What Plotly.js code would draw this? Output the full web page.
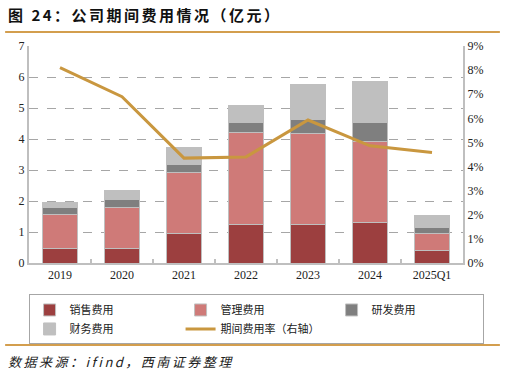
<!DOCTYPE html>
<html>
<head>
<meta charset="utf-8">
<script src="https://cdn.plot.ly/plotly-3.0.1.min.js"></script>
<style>html,body{margin:0;padding:0;background:#fff;}#chart{width:507px;height:378px;}</style>
</head>
<body>
<div id="chart"></div>
<script>
var categories = ['2019', '2020', '2021', '2022', '2023', '2024', '2025Q1'];
var salesExpense = [0.47, 0.47, 0.95, 1.25, 1.25, 1.32, 0.39];
var adminExpense = [1.09, 1.32, 1.96, 2.97, 2.92, 2.60, 0.57];
var rdExpense = [0.23, 0.26, 0.28, 0.31, 0.47, 0.60, 0.20];
var financeExpense = [0.16, 0.29, 0.54, 0.54, 1.12, 1.33, 0.37];
var expenseRatio = [8.10, 6.90, 4.35, 4.40, 5.93, 4.86, 4.58];
var seriesNames = ['销售费用', '管理费用', '研发费用', '财务费用', '期间费用率（右轴）'];

var outline = {color: '#BFBFBF', width: 1};
function barTrace(name, vals, color) {
  return {type: 'bar', name: name, x: categories, y: vals,
    marker: {color: color, line: outline}, hoverinfo: 'y'};
}
var data = [
  barTrace(seriesNames[0], salesExpense, '#9C3F3F'),
  barTrace(seriesNames[1], adminExpense, '#CF7A78'),
  barTrace(seriesNames[2], rdExpense, '#7F7F7F'),
  barTrace(seriesNames[3], financeExpense, '#BFBFBF'),
  {type: 'scatter', mode: 'lines', name: seriesNames[4], x: categories, y: expenseRatio,
    yaxis: 'y2', line: {color: '#C9973F', width: 3}}
];

var tickFont = {family: 'Liberation Serif, Times New Roman, serif', size: 12, color: '#222'};
var layout = {
  width: 507, height: 378,
  margin: {l: 29, r: 44, t: 46, b: 115},
  paper_bgcolor: '#fff', plot_bgcolor: '#fff',
  barmode: 'stack', bargap: 0.43,
  showlegend: true,
  font: {family: 'Noto Sans CJK SC, sans-serif', color: '#333'},
  xaxis: {
    type: 'category', tickfont: tickFont, showline: true, linecolor: '#BFBFBF', linewidth: 2,
    ticks: 'inside', tickson: 'boundaries', ticklen: 4, tickcolor: '#BFBFBF', tickwidth: 2,
    showgrid: false, zeroline: false
  },
  yaxis: {
    range: [0, 7], dtick: 1, tickfont: tickFont, showline: true, linecolor: '#BFBFBF', linewidth: 2,
    showgrid: true, gridcolor: '#A6A6A6', griddash: 'dash', gridwidth: 1, zeroline: false,
    ticks: '', fixedrange: true
  },
  yaxis2: {
    range: [0, 9], dtick: 1, ticksuffix: '%', overlaying: 'y', side: 'right', tickfont: tickFont,
    showline: true, linecolor: '#BFBFBF', linewidth: 2, showgrid: false, zeroline: false, ticks: ''
  },
  legend: {
    orientation: 'h', x: -0.001, xanchor: 'left', y: -0.145, yanchor: 'top',
    entrywidth: 106, bordercolor: '#A6A6A6', borderwidth: 1, bgcolor: '#fff',
    font: {family: 'Noto Sans CJK SC, sans-serif', size: 11, color: '#222'},
    traceorder: 'normal', itemclick: false
  },
  shapes: [
    {type: 'line', xref: 'paper', yref: 'paper', x0: -0.055, x1: 1.085, y0: 1.065, y1: 1.065,
      line: {color: '#D39E4E', width: 2}},
    {type: 'line', xref: 'paper', yref: 'paper', x0: -0.055, x1: 1.085, y0: -0.378, y1: -0.378,
      line: {color: '#D39E4E', width: 2}}
  ],
  annotations: [
    {text: '<b>图 24：公司期间费用情况（亿元）</b>', xref: 'paper', yref: 'paper',
      x: -0.052, y: 1.143, xanchor: 'left', yanchor: 'middle', align: 'left', showarrow: false,
      font: {family: 'Noto Sans CJK SC, sans-serif', size: 15, color: '#111'}},
    {text: '<i>数据来源：ifind，西南证券整理</i>', xref: 'paper', yref: 'paper',
      x: -0.052, y: -0.456, xanchor: 'left', yanchor: 'middle', align: 'left', showarrow: false,
      font: {family: 'Noto Sans CJK SC, sans-serif', size: 13, color: '#222'}}
  ]
};
Plotly.newPlot('chart', data, layout, {displayModeBar: false, staticPlot: true}).then(function () {
  var texts = document.querySelectorAll('.annotation-text');
  texts.forEach(function (t) { t.style.letterSpacing = '2.5px'; });
});
</script>
</body>
</html>
